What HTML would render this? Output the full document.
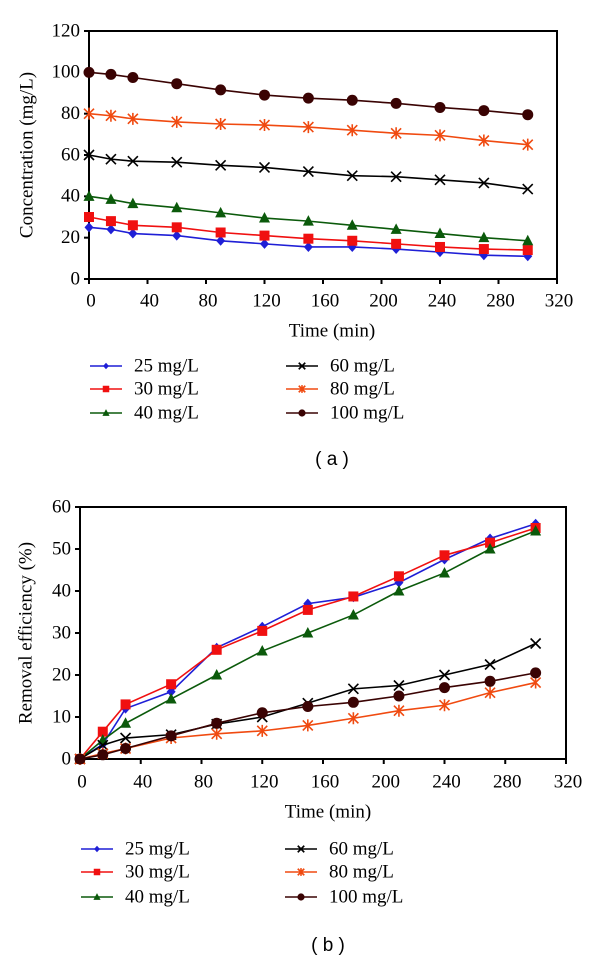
<!DOCTYPE html>
<html><head><meta charset="utf-8">
<style>
html,body{margin:0;padding:0;background:#fff;}
svg{display:block;font-family:"Liberation Serif",serif;}
</style></head>
<body>
<svg id="chart" width="600" height="959" viewBox="0 0 600 959" xmlns="http://www.w3.org/2000/svg"></svg>
<script>
const times = [0,15,30,60,90,120,150,180,210,240,270,300];
const seriesNames = ["25 mg/L","30 mg/L","40 mg/L","60 mg/L","80 mg/L","100 mg/L"];
const concA25 = [25,24,22,21,18.5,17,15.5,15.5,14.5,13,11.5,11];
const concA30 = [30,28,26,25,22.5,21,19.5,18.5,17,15.5,14.5,14];
const concA40 = [40,38.5,36.5,34.5,32,29.5,28,26,24,22,20,18.5];
const concA60 = [60,58,57,56.5,55,54,52,50,49.5,48,46.5,43.5];
const concA80 = [80,79,77.5,76,75,74.5,73.5,72,70.5,69.5,67,65];
const concA100 = [100,99,97.5,94.5,91.5,89,87.5,86.5,85,83,81.5,79.5];
const remB25 = [0,3.5,12,16,26.5,31.5,37,38.5,42,47.5,52.5,56];
const remB30 = [0,6.5,13,17.8,26,30.5,35.5,38.7,43.5,48.5,51.5,55];
const remB40 = [0,4.5,8.5,14.3,20,25.7,30,34.3,40,44.3,50,54.3];
const remB60 = [0,3.3,5,5.8,8.3,10,13.3,16.7,17.5,20,22.5,27.5];
const remB80 = [0,1.3,2.5,5,6,6.7,8,9.7,11.5,12.8,15.8,18.2];
const remB100 = [0,1,2.5,5.5,8.5,11,12.5,13.5,15,17,18.5,20.5];
const xTicks = [0,40,80,120,160,200,240,280,320];
const yTicksA = [0,20,40,60,80,100,120];
const yTicksB = [0,10,20,30,40,50,60];

const NS="http://www.w3.org/2000/svg";
const svg=document.getElementById('chart');
const colors=["#1f1fd6","#f01010","#0b5a0b","#000000","#f04a10","#3a0303"];
const markers=["diamond","square","triangle","x","star","circle"];
function mk(tag,attrs,parent){const e=document.createElementNS(NS,tag);for(const k in attrs)e.setAttribute(k,attrs[k]);(parent||svg).appendChild(e);return e;}
function marker(type,x,y,c,g,s){
  s=s||1;let e;
  if(type==="diamond"){e=mk('polygon',{points:`${x},${y-5*s} ${x+4.5*s},${y} ${x},${y+5*s} ${x-4.5*s},${y}`,fill:c},g);}
  else if(type==="square"){e=mk('rect',{x:x-5*s,y:y-5*s,width:10*s,height:10*s,fill:c},g);}
  else if(type==="triangle"){e=mk('polygon',{points:`${x},${y-6*s} ${x+5.5*s},${y+4.5*s} ${x-5.5*s},${y+4.5*s}`,fill:c},g);}
  else if(type==="x"){e=mk('path',{d:`M${x-5*s},${y-5*s}L${x+5*s},${y+5*s}M${x-5*s},${y+5*s}L${x+5*s},${y-5*s}`,stroke:c,'stroke-width':1.6,fill:'none'},g);}
  else if(type==="star"){e=mk('path',{d:`M${x-5*s},${y-5*s}L${x+5*s},${y+5*s}M${x-5*s},${y+5*s}L${x+5*s},${y-5*s}M${x},${y-6*s}L${x},${y+6*s}`,stroke:c,'stroke-width':1.6,fill:'none'},g);}
  else {e=mk('circle',{cx:x,cy:y,r:5.5*s,fill:c},g);}
  
  
}
function drawChart(cfg){
  const {x0,x1,yTop,yBot,ymax,yTicks,series,ytitle,tickLabelY,titleY,titleX,ytitleX,legendRows,captionY,caption,name}=cfg;
  const g=mk('g',{});
  
  
  const xs=v=>x0+(x1-x0)*v/320;
  const ys=v=>yBot-(yBot-yTop)*v/ymax;
  const box=mk('rect',{x:x0,y:yTop,width:x1-x0,height:yBot-yTop,fill:'none',stroke:'#000','stroke-width':2},g);
  
  
  xTicks.forEach(t=>{
    const tk=mk('line',{x1:xs(t),x2:xs(t),y1:yBot,y2:yBot+5,stroke:'#000','stroke-width':2},g);
    
    
    const tl=mk('text',{x:xs(t)+2,y:tickLabelY,'font-size':19,'text-anchor':'middle','dominant-baseline':'middle'},g);
    tl.textContent=t;
    
    
  });
  yTicks.forEach(t=>{
    const tk=mk('line',{x1:x0-5,x2:x0,y1:ys(t),y2:ys(t),stroke:'#000','stroke-width':2},g);
    
    
    const tl=mk('text',{x:x0-9,y:ys(t)+1,'font-size':19,'text-anchor':'end','dominant-baseline':'middle'},g);
    tl.textContent=t;
    
    
  });
  const xt=mk('text',{x:titleX,y:titleY,'font-size':19,'text-anchor':'middle','dominant-baseline':'middle'},g);
  xt.textContent='Time (min)';
  
  
  const cy=(yTop+yBot)/2;
  const yt=mk('text',{x:ytitleX,y:cy,'font-size':19,'text-anchor':'middle','dominant-baseline':'middle',transform:`rotate(-90 ${ytitleX} ${cy})`},g);
  yt.textContent=ytitle;
  
  
  series.forEach((vals,i)=>{
    const sg=mk('g',{},g);
    
    
    const pts=vals.map((v,j)=>xs(times[j])+','+ys(v)).join(' ');
    const pl=mk('polyline',{points:pts,fill:'none',stroke:colors[i],'stroke-width':1.6},sg);
    
    
    vals.forEach((v,j)=>marker(markers[i],xs(times[j]),ys(v),colors[i],sg));
  });
  // legend
  const lg=mk('g',{},g);
  
  
  seriesNames.forEach((n,i)=>{
    const col=i<3?0:1,row=i%3;
    const lx=col?cfg.legX2:cfg.legX1;
    const ly=legendRows[row];
    const eg=mk('g',{},lg);
    
    
    mk('line',{x1:lx,x2:lx+32,y1:ly,y2:ly,stroke:colors[i],'stroke-width':1.6},eg);
    marker(markers[i],lx+16,ly,colors[i],eg,0.65);
    const t=mk('text',{x:lx+44,y:ly+1,'font-size':19,'dominant-baseline':'middle'},eg);
    t.textContent=n;
  });
  const cp=mk('text',{x:titleX,y:captionY,'font-size':19,'text-anchor':'middle','dominant-baseline':'middle','font-family':'Liberation Sans, sans-serif'},g);
  cp.textContent=caption;
  
  
}
drawChart({name:'chart-a-concentration',x0:89,x1:557,yTop:31,yBot:279,ymax:120,yTicks:yTicksA,
  series:[concA25,concA30,concA40,concA60,concA80,concA100],ytitle:'Concentration (mg/L)',
  tickLabelY:302,titleX:332,titleY:332,ytitleX:28,legendRows:[366,389,413],legX1:90,legX2:286,captionY:460,caption:'( a )'});
drawChart({name:'chart-b-removal-efficiency',x0:80,x1:566,yTop:507,yBot:759,ymax:60,yTicks:yTicksB,
  series:[remB25,remB30,remB40,remB60,remB80,remB100],ytitle:'Removal efficiency (%)',
  tickLabelY:783,titleX:328,titleY:813,ytitleX:27,legendRows:[849,872,897],legX1:81,legX2:285,captionY:946,caption:'( b )'});
</script>
</body></html>
